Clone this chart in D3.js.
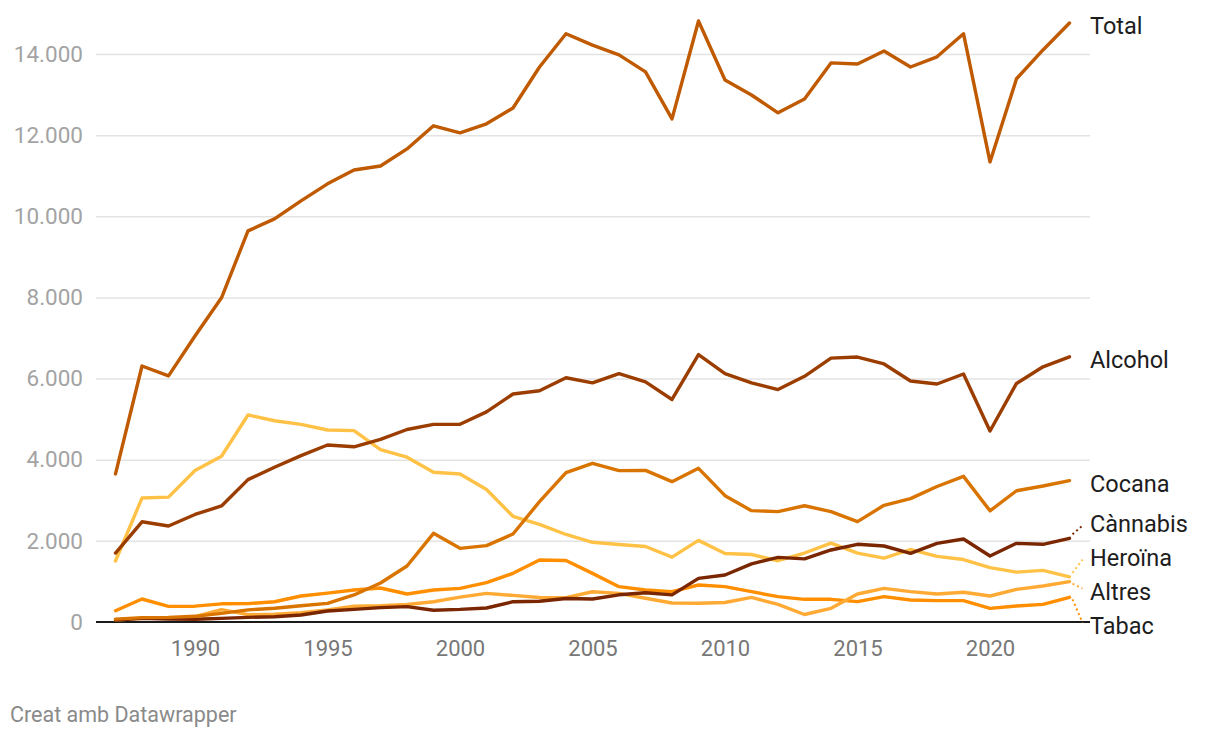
<!DOCTYPE html>
<html>
<head>
<meta charset="utf-8">
<script src="https://cdn.jsdelivr.net/npm/d3@7"></script>
<style>
  html, body { margin: 0; padding: 0; background: #fff; }
  svg { display: block; font-family: Roboto, "Noto Sans", sans-serif; }
</style>
</head>
<body>
<svg id="chart" width="1220" height="738"></svg>
<script>
const years = d3.range(1987, 2024);
const yTicks = [0, 2000, 4000, 6000, 8000, 10000, 12000, 14000];
const xTicks = [1990, 1995, 2000, 2005, 2010, 2015, 2020];

const seriesNames = ["Total", "Alcohol", "Cocana", "Cànnabis", "Heroïna", "Altres", "Tabac"];
const seriesColors = ["#c05a00", "#9c3d00", "#d97400", "#7a2600", "#ffc247", "#ffaa35", "#ff8f00"];

const total = [3650, 6310, 6065, 7050, 7990, 9640, 9935, 10380, 10800, 11140, 11240, 11660, 12230, 12055, 12280, 12670, 13680, 14500, 14220, 13980, 13560, 12400, 14815, 13360, 12990, 12550, 12890, 13780, 13755, 14075, 13680, 13930, 14500, 11340, 13390, 14100, 14765];
const alcohol = [1700, 2470, 2366, 2650, 2860, 3510, 3815, 4100, 4363, 4318, 4500, 4745, 4870, 4875, 5180, 5620, 5700, 6020, 5895, 6120, 5920, 5485, 6590, 6120, 5895, 5730, 6055, 6505, 6530, 6360, 5940, 5867, 6113, 4708, 5880, 6290, 6535];
const cocana = [70, 107, 115, 140, 214, 300, 340, 400, 460, 666, 960, 1380, 2186, 1816, 1882, 2169, 2966, 3681, 3911, 3730, 3738, 3459, 3788, 3114, 2744, 2720, 2865, 2720, 2473, 2876, 3040, 3340, 3590, 2740, 3235, 3352, 3484];
const cannabis = [49, 90, 70, 66, 90, 115, 131, 173, 271, 312, 355, 380, 290, 310, 345, 500, 512, 580, 566, 670, 722, 668, 1076, 1158, 1434, 1594, 1555, 1775, 1915, 1873, 1693, 1939, 2046, 1627, 1939, 1915, 2062];
const heroina = [1504, 3055, 3077, 3735, 4085, 5103, 4960, 4870, 4733, 4716, 4250, 4063, 3690, 3648, 3265, 2605, 2405, 2157, 1965, 1910, 1860, 1598, 2012, 1688, 1664, 1510, 1700, 1943, 1697, 1573, 1787, 1618, 1540, 1340, 1228, 1273, 1113];
const altres = [49, 90, 90, 131, 305, 180, 190, 230, 300, 390, 400, 430, 500, 612, 706, 655, 603, 600, 745, 706, 586, 468, 462, 480, 606, 435, 185, 337, 690, 830, 748, 690, 732, 641, 805, 887, 994];
const tabac = [279, 567, 385, 390, 448, 452, 500, 641, 711, 789, 838, 690, 789, 830, 970, 1199, 1528, 1516, 1199, 871, 789, 748, 912, 871, 748, 624, 559, 559, 501, 624, 542, 526, 526, 337, 394, 435, 608];

const seriesValues = [total, alcohol, cocana, cannabis, heroina, altres, tabac];

const svg = d3.select("#chart");
const plotLeft = 96, plotRight = 1090;

const x = d3.scaleLinear().domain([1987, 2023]).range([115.5, 1069.5]);
const y = d3.scaleLinear().domain([0, 14000]).range([622, 54]);

const fmt = d3.formatLocale({decimal: ",", thousands: ".", grouping: [3], currency: ["", "€"]}).format(",");

// Y axis with gridlines
const yAxis = d3.axisLeft(y).tickValues(yTicks).tickSize(-(plotRight - plotLeft)).tickPadding(13).tickFormat(fmt);
const gy = svg.append("g").attr("transform", `translate(${plotLeft},0)`).call(yAxis);
gy.select(".domain").remove();
gy.selectAll(".tick line").attr("stroke", "#e3e3e3").attr("stroke-width", 1.5)
  .filter(d => d === 0).remove();
gy.selectAll(".tick text").attr("fill", "#a3a3a3").attr("font-size", 22.5)
  .attr("font-family", "Roboto, sans-serif");

// X axis
const xAxis = d3.axisBottom(x).tickValues(xTicks).tickSize(0).tickPadding(18).tickFormat(d3.format("d"));
const gx = svg.append("g").attr("transform", `translate(0,${y(0)})`).call(xAxis);
gx.select(".domain").remove();
gx.selectAll(".tick text").attr("fill", "#777").attr("font-size", 22)
  .attr("font-family", "Roboto, sans-serif");

// baseline
svg.append("line").attr("x1", plotLeft).attr("x2", plotRight)
  .attr("y1", y(0)).attr("y2", y(0)).attr("stroke", "#1a1a1a").attr("stroke-width", 2);

// lines
const line = d3.line().x((d, i) => x(years[i])).y(d => y(d));
const drawOrder = [6, 5, 4, 3, 2, 1, 0];
drawOrder.forEach(k => {
  svg.append("path").datum(seriesValues[k])
    .attr("d", line)
    .attr("fill", "none")
    .attr("stroke", seriesColors[k])
    .attr("stroke-width", 3.4)
    .attr("stroke-linejoin", "round")
    .attr("stroke-linecap", "round");
});

// label placement with collision avoidance
const gap = 34, offset = 3;
let labels = seriesNames.map((n, k) => ({name: n, k, y0: y(seriesValues[k][seriesValues[k].length - 1])}));
labels.sort((a, b) => a.y0 - b.y0);
let groups = labels.map(l => ({items: [l], center: l.y0}));
let changed = true;
while (changed) {
  changed = false;
  for (let i = 0; i < groups.length - 1; i++) {
    const a = groups[i], b = groups[i + 1];
    const aBottom = a.center + (a.items.length - 1) * gap / 2;
    const bTop = b.center - (b.items.length - 1) * gap / 2;
    if (bTop - aBottom < gap) {
      const items = a.items.concat(b.items);
      const center = d3.mean(items, d => d.y0);
      groups.splice(i, 2, {items, center});
      changed = true;
      break;
    }
  }
}
groups.forEach(g => {
  g.items.forEach((it, j) => {
    it.y = g.center + (j - (g.items.length - 1) / 2) * gap + (g.items.length > 1 ? 1 : offset);
  });
});

const xEnd = x(2023);
labels.forEach(l => {
  const yEnd = l.y0;
  if (Math.abs(l.y - yEnd) > 5) {
    svg.append("line")
      .attr("x1", xEnd + 3).attr("y1", yEnd + (l.y > yEnd ? 2 : -4))
      .attr("x2", xEnd + 13).attr("y2", l.y + (l.y > yEnd ? -3 : 2))
      .attr("stroke", seriesColors[l.k]).attr("stroke-width", 2)
      .attr("stroke-dasharray", "2,3");
  }
  svg.append("text")
    .attr("x", plotRight)
    .attr("y", l.y)
    .attr("dy", "0.355em")
    .attr("font-size", 23.5)
    .attr("fill", "#1d1d1d")
    .text(l.name);
});

// credit
svg.append("text").attr("x", 10).attr("y", 722)
  .attr("font-size", 21.5).attr("fill", "#8a8a8a")
  .text("Creat amb Datawrapper");
</script>
</body>
</html>
